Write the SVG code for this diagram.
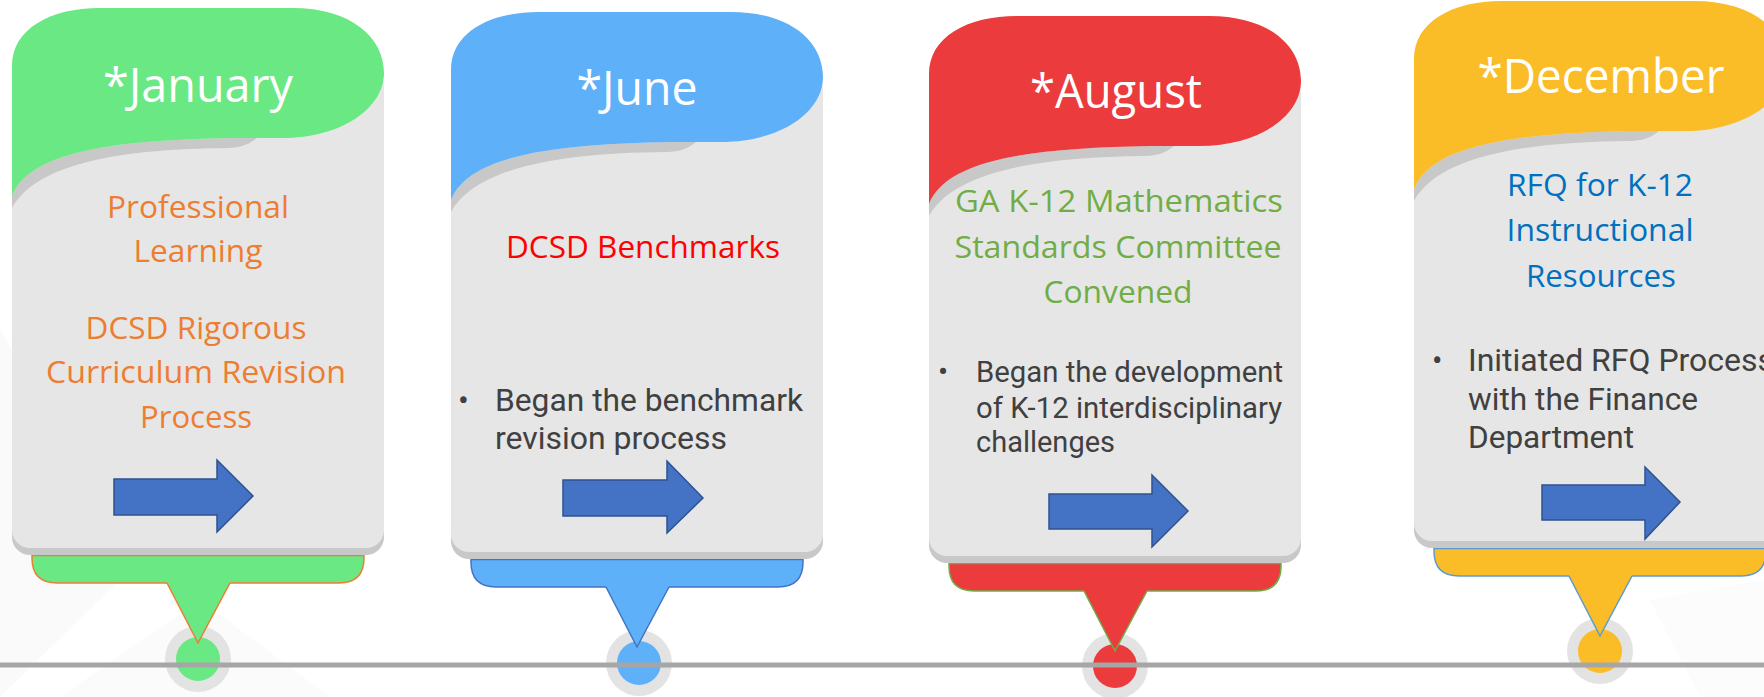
<svg xmlns="http://www.w3.org/2000/svg" xmlns:xlink="http://www.w3.org/1999/xlink" width="1764" height="697" viewBox="0 0 1764 697">
<style>
.hd{font-family:"Open Sans","Liberation Sans",sans-serif;font-size:48px;fill:#ffffff;text-anchor:middle}
.tt{font-family:"Open Sans","Liberation Sans",sans-serif;font-size:31px;text-anchor:middle}
.bl{font-family:Roboto,"Liberation Sans",sans-serif;fill:#404040}
.arr{fill:#4472C4;stroke:#2F528F;stroke-width:1.5;stroke-linejoin:miter}
.face{fill:#e6e6e6}
.shd{fill:#c8c8c8}
.ring{fill:#e3e3e3}
.edge{fill:none;stroke-width:1.5}
</style>
<defs>
<path id="hdr" d="M0,58 C0,21 38,0 88,0 L280,0 C340,0 372,30 372,65 C372,100 330,130 270,130 L221,130 C108,132 18,142 0,188 Z"/>
<path id="hsh" d="M0,200 C25,155 110,141 215,140 C232,140 240,134 245,130 L221,130 C108,132 18,142 0,188 Z"/>
<path id="tab" d="M20,535 L352,535 L352,550 Q352,575 327,575 L45,575 Q20,575 20,550 Z"/>
<path id="tabedge" d="M20,547.5 L352,547.5 M20,545 L20,550 Q20,575 45,575 L155,575 M218,575 L327,575 Q352,575 352,550 L352,545"/>
<path id="tri" d="M155,572 L218,572 L218,575 L186,635 L155,575 Z"/>
<path id="triedge" d="M155,575 L186,635 L218,575"/>
<rect id="bodyshd" x="0" y="67" width="372" height="480" rx="18"/>
<rect id="body" x="0" y="60" width="372" height="480" rx="18"/>
</defs>
<rect width="1764" height="697" fill="#ffffff"/>
<polygon points="0,330 140,560 0,697" fill="#fafafa"/>
<polygon points="60,697 200,600 330,697" fill="#fbfbfb"/>
<polygon points="1650,600 1764,580 1764,697 1700,697" fill="#fcfcfc"/>

<g id="card-january">
<g transform="translate(12,8)" fill="#6AE883">
<circle class="ring" cx="186" cy="651" r="33"/>
<circle cx="186" cy="651" r="22"/>
<use xlink:href="#tab"/>
<use xlink:href="#tabedge" class="edge" stroke="#ED7D31"/>
<use xlink:href="#tri"/>
<use xlink:href="#triedge" class="edge" stroke="#ED7D31"/>
<use xlink:href="#bodyshd" class="shd"/>
<use xlink:href="#body" class="face"/>
<use xlink:href="#hsh" class="shd"/>
<use xlink:href="#hdr"/>
</g>
<text class="hd" x="198" y="102" textLength="190" lengthAdjust="spacingAndGlyphs">*January</text>
<g class="tt" fill="#ED7D31">
<text x="198" y="218" textLength="182" lengthAdjust="spacingAndGlyphs">Professional</text>
<text x="198" y="262" textLength="129" lengthAdjust="spacingAndGlyphs">Learning</text>
<text x="196" y="339" textLength="221" lengthAdjust="spacingAndGlyphs">DCSD Rigorous</text>
<text x="196" y="383" textLength="300" lengthAdjust="spacingAndGlyphs">Curriculum Revision</text>
<text x="196" y="428" textLength="112" lengthAdjust="spacingAndGlyphs">Process</text>
</g>
<polygon class="arr" points="114,479 217,479 217,460 253,496 217,532 217,515 114,515"/>
</g>

<g id="card-june">
<g transform="translate(451,12)" fill="#5EB0F9">
<circle class="ring" cx="188" cy="651" r="33"/>
<circle cx="188" cy="651" r="22"/>
<use xlink:href="#tab"/>
<use xlink:href="#tabedge" class="edge" stroke="#4472C4"/>
<use xlink:href="#tri"/>
<use xlink:href="#triedge" class="edge" stroke="#4472C4"/>
<use xlink:href="#bodyshd" class="shd"/>
<use xlink:href="#body" class="face"/>
<use xlink:href="#hsh" class="shd"/>
<use xlink:href="#hdr"/>
</g>
<text class="hd" x="637" y="105" textLength="121" lengthAdjust="spacingAndGlyphs">*June</text>
<text class="tt" fill="#FF0000" x="643" y="258" textLength="274" lengthAdjust="spacingAndGlyphs">DCSD Benchmarks</text>
<g class="bl" font-size="32">
<text x="458" y="411">•</text>
<text x="495" y="411" textLength="308" lengthAdjust="spacingAndGlyphs">Began the benchmark</text>
<text x="495" y="449" textLength="232" lengthAdjust="spacingAndGlyphs">revision process</text>
</g>
<polygon class="arr" points="563,480 667,480 667,461 703,498 667,533 667,516 563,516"/>
</g>

<g id="card-august">
<g transform="translate(929,16)" fill="#EB3B3D">
<circle class="ring" cx="186" cy="650" r="33"/>
<circle cx="186" cy="650" r="22"/>
<use xlink:href="#tab"/>
<use xlink:href="#tabedge" class="edge" stroke="#70AD47"/>
<use xlink:href="#tri"/>
<use xlink:href="#triedge" class="edge" stroke="#70AD47"/>
<use xlink:href="#bodyshd" class="shd"/>
<use xlink:href="#body" class="face"/>
<use xlink:href="#hsh" class="shd"/>
<use xlink:href="#hdr"/>
</g>
<text class="hd" x="1116" y="108" textLength="172" lengthAdjust="spacingAndGlyphs">*August</text>
<g class="tt" fill="#70AD47">
<text x="1119" y="212" textLength="328" lengthAdjust="spacingAndGlyphs">GA K-12 Mathematics</text>
<text x="1118" y="258" textLength="327" lengthAdjust="spacingAndGlyphs">Standards Committee</text>
<text x="1118" y="303" textLength="149" lengthAdjust="spacingAndGlyphs">Convened</text>
</g>
<g class="bl" font-size="30">
<text x="938" y="382">•</text>
<text x="976" y="382" textLength="307" lengthAdjust="spacingAndGlyphs">Began the development</text>
<text x="976" y="418" textLength="306" lengthAdjust="spacingAndGlyphs">of K-12 interdisciplinary</text>
<text x="976" y="452" textLength="139" lengthAdjust="spacingAndGlyphs">challenges</text>
</g>
<polygon class="arr" points="1049,494 1152,494 1152,475 1188,511 1152,547 1152,529 1049,529"/>
</g>

<g id="card-december">
<g transform="translate(1414,1)" fill="#FBBD27">
<circle class="ring" cx="186" cy="650" r="33"/>
<circle cx="186" cy="650" r="22"/>
<use xlink:href="#tab"/>
<use xlink:href="#tabedge" class="edge" stroke="#5B9BD5"/>
<use xlink:href="#tri"/>
<use xlink:href="#triedge" class="edge" stroke="#5B9BD5"/>
<use xlink:href="#bodyshd" class="shd"/>
<use xlink:href="#body" class="face"/>
<use xlink:href="#hsh" class="shd"/>
<use xlink:href="#hdr"/>
</g>
<text class="hd" x="1601" y="93" textLength="247" lengthAdjust="spacingAndGlyphs">*December</text>
<g class="tt" fill="#0070C0">
<text x="1600" y="196" textLength="186" lengthAdjust="spacingAndGlyphs">RFQ for K-12</text>
<text x="1600" y="241" textLength="187" lengthAdjust="spacingAndGlyphs">Instructional</text>
<text x="1601" y="287" textLength="150" lengthAdjust="spacingAndGlyphs">Resources</text>
</g>
<g class="bl" font-size="31">
<text x="1432" y="371">•</text>
<text x="1468" y="371" textLength="306" lengthAdjust="spacingAndGlyphs">Initiated RFQ Process</text>
<text x="1468" y="410" textLength="230" lengthAdjust="spacingAndGlyphs">with the Finance</text>
<text x="1468" y="448" textLength="166" lengthAdjust="spacingAndGlyphs">Department</text>
</g>
<polygon class="arr" points="1542,485 1645,485 1645,467 1680,502 1645,539 1645,520 1542,520"/>
</g>

<g id="connectors">
<line x1="0" y1="665" x2="1764" y2="665" stroke="#a6a6a6" stroke-width="5"/>
</g>
</svg>
